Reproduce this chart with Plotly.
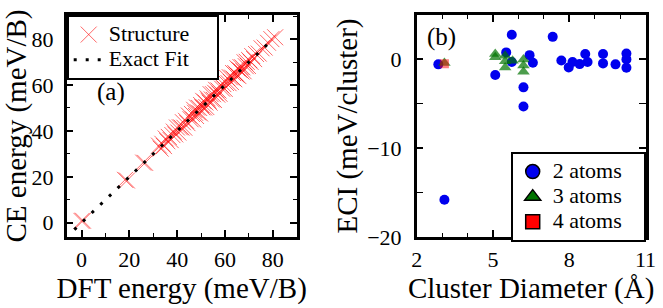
import plotly.graph_objects as go

# ---------------- panel (a) data ----------------
dft_energy = [0.0, 0.6, 18.2, 19.0, 25.8, 26.6, 32.4, 33.1, 33.8, 34.5,
              35.2, 35.9, 36.5, 37.3, 38.0, 38.6, 39.2, 39.9, 40.5, 41.1,
              41.8, 42.4, 43.0, 43.7, 44.3, 44.9, 45.6, 46.2, 46.7, 47.1,
              47.5, 47.9, 48.3, 48.7, 49.2, 49.6, 50.0, 50.5, 50.9, 51.3,
              51.8, 52.2, 52.7, 53.1, 53.6, 54.0, 54.5, 55.0, 55.4, 55.9,
              56.3, 56.8, 57.3, 57.7, 58.2, 58.8, 59.3, 59.9, 60.4, 61.0,
              61.5, 62.0, 62.5, 63.0, 63.4, 63.9, 64.3, 64.8, 65.2, 65.6,
              66.0, 66.5, 66.9, 67.3, 67.8, 68.2, 68.7, 69.1, 69.6, 70.1,
              70.7, 71.4, 72.2, 73.0, 74.1, 75.3, 76.6, 78.0, 79.4, 81.0]
ce_energy = [0.8, 0.9, 18.7, 18.4, 26.2, 26.1, 33.6, 32.3, 34.4, 33.4,
             36.7, 35.5, 37.4, 36.0, 38.2, 39.7, 38.5, 41.5, 39.3, 41.6,
             41.5, 43.8, 41.4, 44.4, 43.4, 46.7, 45.1, 47.4, 45.0, 49.2,
             47.9, 46.5, 50.2, 48.1, 50.0, 47.6, 51.3, 50.3, 53.1, 50.2,
             52.4, 50.4, 54.2, 53.2, 52.3, 56.0, 53.7, 56.0, 53.5, 56.6,
             57.9, 55.8, 57.6, 56.2, 60.1, 58.4, 60.4, 58.3, 60.9, 63.0,
             60.8, 63.4, 61.3, 63.2, 65.2, 62.5, 65.2, 64.5, 67.3, 63.9,
             66.6, 67.8, 65.9, 67.7, 66.0, 69.9, 68.2, 70.1, 68.3, 70.9,
             70.1, 72.6, 71.3, 73.5, 73.7, 76.0, 76.3, 78.4, 80.0, 80.8]
fit_x = [-3.0, 80.0]
fit_y = [-3.0, 80.0]
a_ticks = [0, 20, 40, 60, 80]

# ---------------- panel (b) data ----------------
two_diam = [2.85, 3.09, 5.09, 5.52, 5.74, 5.74, 6.20, 6.20, 6.44, 6.57,
            7.35, 7.69, 7.98, 8.13, 8.41, 8.63, 8.72, 9.33, 9.33, 9.82,
            10.25, 10.25, 10.25]
two_eci = [-0.56, -15.8, -1.76, 0.79, 2.77, -0.3, -3.15, -5.3, 0.48, -0.38,
           2.54, -0.12, -0.9, -0.3, -0.53, 0.6, -0.3, 0.6, -0.45, -0.56,
           0.67, 0.0, -0.94]
three_diam = [3.09, 5.09, 5.09, 5.48, 5.48, 5.48, 5.77, 6.20, 6.20, 6.20]
three_eci = [-0.4, 0.6, 0.25, 0.4, -0.2, -0.9, -0.15, 0.0, -0.7, -1.4]
four_diam = [3.09]
four_eci = [-0.5]
b_xticks = [2, 5, 8, 11]
b_yticks = [-20, -10, 0]

FONT = "'Liberation Serif', 'Times New Roman', Times, serif"
BLUE = "#0000ee"
GREEN = "#007400"
RED = "#ff0000"

def big(label, pad):
    # legend text drawn a little larger than the compact legend row height
    return '<span style="font-size:22px">' + label + '&nbsp;' * pad + '</span>'

fig = go.Figure()

# panel (a)
fig.add_trace(go.Scatter(
    x=dft_energy, y=ce_energy, mode="markers", name=big("Structure", 4),
    marker=dict(symbol="x-thin-open", size=16, color="rgba(255,0,0,0.6)",
                line=dict(width=1, color="rgba(255,0,0,0.6)")),
    xaxis="x", yaxis="y", legend="legend"))
fig.add_trace(go.Scatter(
    x=fit_x, y=fit_y, mode="lines", name=big("Exact Fit", 4),
    line=dict(color="black", width=3, dash="3px,9px"),
    xaxis="x", yaxis="y", legend="legend"))

# panel (b) data traces (no legend)
fig.add_trace(go.Scatter(
    x=two_diam, y=two_eci, mode="markers", showlegend=False,
    marker=dict(symbol="circle", size=10, color=BLUE),
    xaxis="x2", yaxis="y2"))
fig.add_trace(go.Scatter(
    x=three_diam, y=three_eci, mode="markers", showlegend=False,
    marker=dict(symbol="triangle-up", size=11, color=GREEN, opacity=0.7),
    xaxis="x2", yaxis="y2"))
fig.add_trace(go.Scatter(
    x=four_diam, y=four_eci, mode="markers", showlegend=False,
    marker=dict(symbol="square", size=9, color=RED, opacity=0.5),
    xaxis="x2", yaxis="y2"))

# panel (b) legend entries (outlined symbols)
for name, sym, col in [("2 atoms", "circle", BLUE),
                       ("3 atoms", "triangle-up", GREEN),
                       ("4 atoms", "square", RED)]:
    fig.add_trace(go.Scatter(
        x=[None], y=[None], mode="markers", name=big(name, 3),
        marker=dict(symbol=sym, size=14, color=col,
                    line=dict(width=1.5, color="black")),
        xaxis="x2", yaxis="y2", legend="legend2"))

W, H = 663, 308
def px_x(p):
    return p / W
def px_y(p):
    return 1 - p / H

axis_common = dict(
    showline=True, linecolor="black", linewidth=2.5, mirror="allticks",
    ticks="inside", ticklen=7, tickwidth=1.5, tickcolor="black",
    showgrid=False, zeroline=False, automargin=False,
    tickfont=dict(family=FONT, size=22, color="black"),
    title_font=dict(family=FONT, size=29, color="black"),
)

fig.update_layout(
    width=W, height=H,
    margin=dict(l=0, r=0, t=0, b=0, autoexpand=False),
    paper_bgcolor="white", plot_bgcolor="white",
    font=dict(family=FONT, color="black"),
    xaxis=dict(domain=[px_x(66.7), px_x(296.7)], range=[-6.2, 90],
               tickvals=a_ticks, anchor="y", ticklabelstandoff=1,
               minor=dict(dtick=10, tick0=0, ticklen=4, ticks="inside", tickcolor="black", tickwidth=1.2),
               title=dict(text="DFT energy (meV/B)", standoff=1),
               **axis_common),
    yaxis=dict(domain=[px_y(237), px_y(15)], range=[-6.2, 90.5],
               tickvals=a_ticks, anchor="x", ticklabelstandoff=6,
               minor=dict(dtick=10, tick0=0, ticklen=4, ticks="inside", tickcolor="black", tickwidth=1.2),
               title=dict(text="CE energy (meV/B)", standoff=0),
               **axis_common),
    xaxis2=dict(domain=[px_x(416.7), px_x(645.5)], range=[2, 11],
                tickvals=b_xticks, anchor="y2", ticklabelstandoff=1,
                minor=dict(dtick=1, tick0=2, ticklen=4, ticks="inside", tickcolor="black", tickwidth=1.2),
                title=dict(text="Cluster Diameter (Å)", standoff=1),
                **axis_common),
    yaxis2=dict(domain=[px_y(237), px_y(15)], range=[-20, 5],
                tickvals=b_yticks, anchor="x2", ticklabelstandoff=8,
                minor=dict(dtick=5, tick0=0, ticklen=7, ticks="inside", tickcolor="black", tickwidth=1.2),
                title=dict(text="ECI (meV/cluster)", standoff=1),
                **axis_common),
    legend=dict(x=px_x(66.7), y=px_y(15), xanchor="left", yanchor="top",
                bgcolor="white", bordercolor="black", borderwidth=2,
                font=dict(family=FONT, size=17, color="black"),
                tracegroupgap=0),
    legend2=dict(x=px_x(645.7), y=px_y(152), xanchor="right", yanchor="top",
                 bgcolor="white", bordercolor="black", borderwidth=2,
                 font=dict(family=FONT, size=17, color="black"),
                 tracegroupgap=0),
    annotations=[
        dict(text="(a)", x=px_x(111), y=px_y(92), xref="paper", yref="paper",
             xanchor="center", yanchor="middle",
             showarrow=False, font=dict(family=FONT, size=25, color="black")),
        dict(text="(b)", x=px_x(441), y=px_y(37), xref="paper", yref="paper",
             xanchor="center", yanchor="middle",
             showarrow=False, font=dict(family=FONT, size=25, color="black")),
    ],
)

fig.write_html("out.html", config={"displayModeBar": False},
               post_script="document.body.style.margin='0';")
